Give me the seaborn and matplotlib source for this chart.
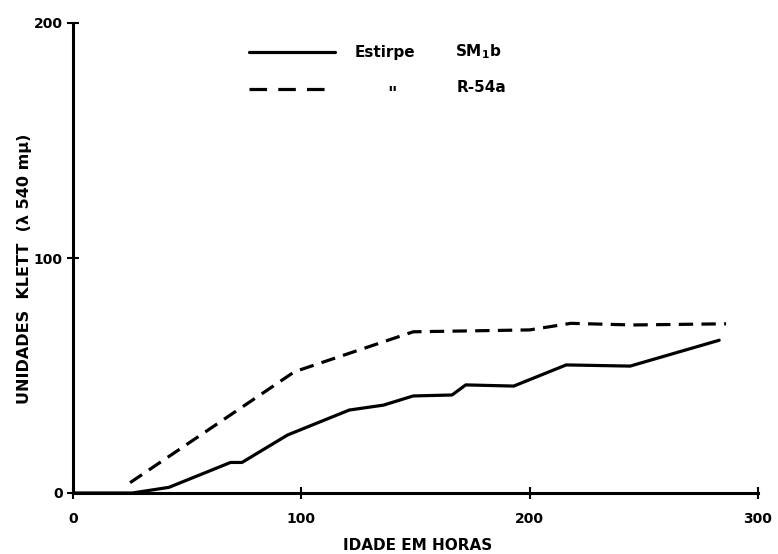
import matplotlib
matplotlib.use("Agg")
import matplotlib.pyplot as plt
import seaborn as sns
import pandas as pd
from matplotlib.lines import Line2D

# Data
hours_sm1b = [0, 26, 42, 69, 74, 94, 121, 136, 149, 166, 172, 193, 216, 244, 283]
klett_sm1b = [0, 0, 2.4, 13, 13, 24.7, 35.3, 37.4, 41.3, 41.7, 46, 45.5, 54.5, 54, 65]
hours_r54a = [25, 97, 149, 200, 218, 245, 286]
klett_r54a = [4.4, 51.6, 68.6, 69.4, 72.2, 71.5, 72]
strains = ["SM1b", "R-54a"]
x_ticks = [0, 100, 200, 300]
y_ticks = [0, 100, 200]

df = pd.concat([
    pd.DataFrame({"horas": hours_sm1b, "klett": klett_sm1b, "estirpe": strains[0]}),
    pd.DataFrame({"horas": hours_r54a, "klett": klett_r54a, "estirpe": strains[1]}),
], ignore_index=True)

sns.set_style("ticks")
plt.rcParams["font.family"] = ["DejaVu Sans"]
plt.rcParams["font.weight"] = "bold"
for k in ["text.color", "axes.labelcolor", "xtick.color", "ytick.color", "axes.edgecolor"]:
    plt.rcParams[k] = "black"

fig = plt.figure(figsize=(7.78, 5.54), dpi=100)
ax = fig.add_axes([73/778, 1 - 493/554, (758 - 73)/778, (493 - 23)/554])

sns.lineplot(data=df, x="horas", y="klett", style="estirpe",
             dashes={strains[0]: "", strains[1]: (4.5, 2.6)},
             color="black", linewidth=2.3, legend=False, ax=ax, sort=False)

ax.set_xlim(0, 300)
ax.set_ylim(0, 200)
ax.set_xticks(x_ticks)
ax.set_yticks(y_ticks)
ax.set_xticklabels([str(t) for t in x_ticks], fontsize=10, fontweight="bold")
ax.set_yticklabels([str(t) for t in y_ticks], fontsize=10, fontweight="bold")
ax.tick_params(direction="inout", length=9, width=1.5, color="black")
ax.tick_params(axis="x", pad=9)
ax.tick_params(axis="y", pad=3)
for s in ["top", "right"]:
    ax.spines[s].set_visible(False)
for s in ["left", "bottom"]:
    ax.spines[s].set_linewidth(2.2)
    ax.spines[s].set_color("black")

ax.set_xlabel("IDADE EM HORAS", fontsize=11, fontweight="bold")
ax.xaxis.set_label_coords((418 - 73) / 685, -(545 - 493) / 470)
ax.xaxis.label.set_va("center")
ax.set_ylabel("UNIDADES  KLETT  (λ 540 mμ)", fontsize=11.5, fontweight="bold")
ax.yaxis.set_label_coords((24 - 73) / 685, (493 - 269) / 470)
ax.yaxis.label.set_va("center")

handles = [Line2D([], [], color="black", lw=2.3),
           Line2D([], [], color="black", lw=2.3, dashes=(5.5, 3.5))]
ax.legend(handles, [" ", " "], loc="upper left",
          bbox_to_anchor=(249/778, 1 - 45/554), bbox_transform=fig.transFigure,
          frameon=False, handlelength=5.6, fontsize=11, borderpad=0,
          borderaxespad=0, labelspacing=1.45, handletextpad=0.5)

fig.text(355/778, 1 - 52/554, "Estirpe", fontsize=11, fontweight="bold", va="center", ha="left")
fig.text(455/778, 1 - 52/554, "SM$_\\mathbf{1}$b", fontsize=11, fontweight="bold", va="center", ha="left")
fig.text(392/778, 1 - 94/554, "\"", fontsize=13, fontweight="bold", va="center", ha="center")
fig.text(457/778, 1 - 88/554, "R-54a", fontsize=11, fontweight="bold", va="center", ha="left")

fig.savefig("out.png", dpi=100)
